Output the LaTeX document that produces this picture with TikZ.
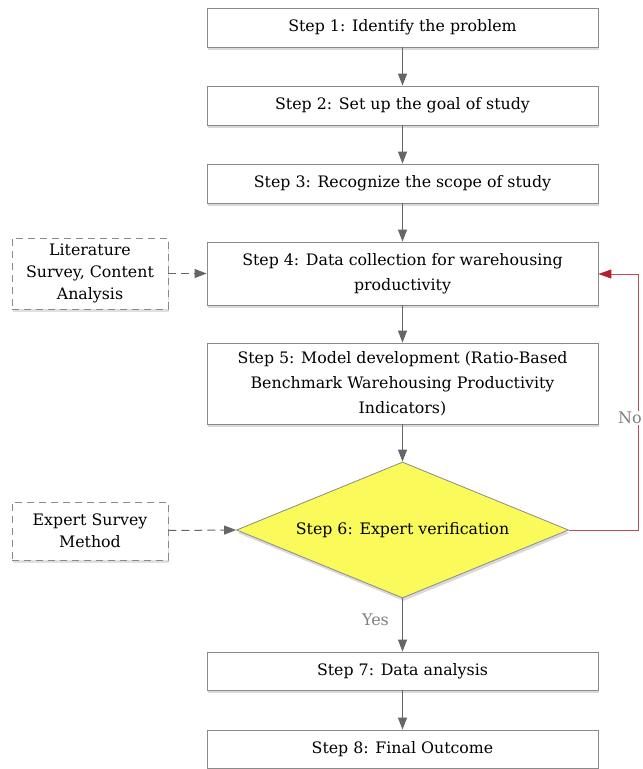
\documentclass[tikz,border=0pt]{standalone}
\usepackage{fontspec}
\setmainfont{DejaVu Serif}
\usetikzlibrary{shapes.geometric,arrows.meta,shadows}
\definecolor{edgegray}{HTML}{666666}
\definecolor{boxgray}{HTML}{8A8A8A}
\definecolor{loopred}{HTML}{C44A55}
\definecolor{tipred}{HTML}{B0202E}
\definecolor{dyellow}{HTML}{FAFA5A}
\definecolor{lblgray}{HTML}{808080}
\begin{document}
\begin{tikzpicture}[x=1pt,y=-1pt,
  font=\fontsize{15.8}{25}\selectfont,
  stepbox/.style={draw=boxgray,line width=0.8pt,fill=white,minimum width=391pt,align=center,inner sep=0pt,
    drop shadow={shadow xshift=1pt,shadow yshift=-3pt,opacity=0.15,fill=black}},
  srcbox/.style={draw=boxgray,line width=0.9pt,dash pattern=on 7pt off 5pt,fill=white,minimum width=156pt,align=center,inner sep=0pt,
    drop shadow={shadow xshift=1pt,shadow yshift=-3pt,opacity=0.12,fill=black}},
  flow/.style={draw=edgegray,line width=1pt,-{Triangle[length=12pt,width=9pt]}},
  dflow/.style={draw=edgegray,line width=1pt,dash pattern=on 8pt off 5pt,-{Triangle[length=12pt,width=9pt]}},
  lbl/.style={text=lblgray,font=\fontsize{16}{18}\selectfont}
]
\useasboundingbox (0,0) rectangle (643,769);
\node[stepbox,minimum height=39pt] (s1) at (402.5,27.5) {Step 1: Identify the problem};
\node[stepbox,minimum height=39pt] (s2) at (402.5,105.5) {Step 2: Set up the goal of study};
\node[stepbox,minimum height=39pt] (s3) at (402.5,183.5) {Step 3: Recognize the scope of study};
\node[stepbox,minimum height=63pt] (s4) at (402.5,273.5) {Step 4: Data collection for warehousing\\productivity};
\node[stepbox,minimum height=81pt] (s5) at (402.5,383.5) {Step 5: Model development (Ratio-Based\\Benchmark Warehousing Productivity\\Indicators)};
\node[diamond,draw=boxgray,line width=0.8pt,fill=dyellow,minimum width=332pt,minimum height=136pt,inner sep=0pt,
  drop shadow={shadow xshift=1pt,shadow yshift=-3pt,opacity=0.15,fill=black}] (s6) at (402.5,530) {};
\node (s6t) at (s6.center) {Step 6: Expert verification};
\node[stepbox,minimum height=38pt] (s7) at (402.5,671) {Step 7: Data analysis};
\node[stepbox,minimum height=38pt] (s8) at (402.5,749) {Step 8: Final Outcome};
\node[srcbox,minimum height=71pt] (lit) at (90,273.5) {Literature\\[-3pt]Survey, Content\\[-3pt]Analysis};
\node[srcbox,minimum height=58pt] (exp) at (90,531) {Expert Survey\\[-3pt]Method};
\coordinate (nc) at (638,530);
\coordinate (nt) at (638,274);
\draw[flow] (s1) -- (s2);
\draw[flow] (s2) -- (s3);
\draw[flow] (s3) -- (s4);
\draw[flow] (s4) -- (s5);
\draw[flow] (s5) -- (s6);
\draw[flow] (s6) -- (s7);
\node[lbl] (yes) at (375.5,620) {Yes};
\draw[flow] (s7) -- (s8);
\draw[dflow] (lit) -- (lit -| s4.west);
\draw[dflow] (exp) -- (s6.west);
\draw[draw=loopred,line width=1pt,-{Triangle[length=13pt,width=9pt,color=tipred]}] (s6.east) -- (nc) -- (nt) -- (nt -| s4.east);
\node[lbl,fill=white,inner sep=1pt,anchor=east] (nolbl) at (643,418) {No};
\end{tikzpicture}
\end{document}
